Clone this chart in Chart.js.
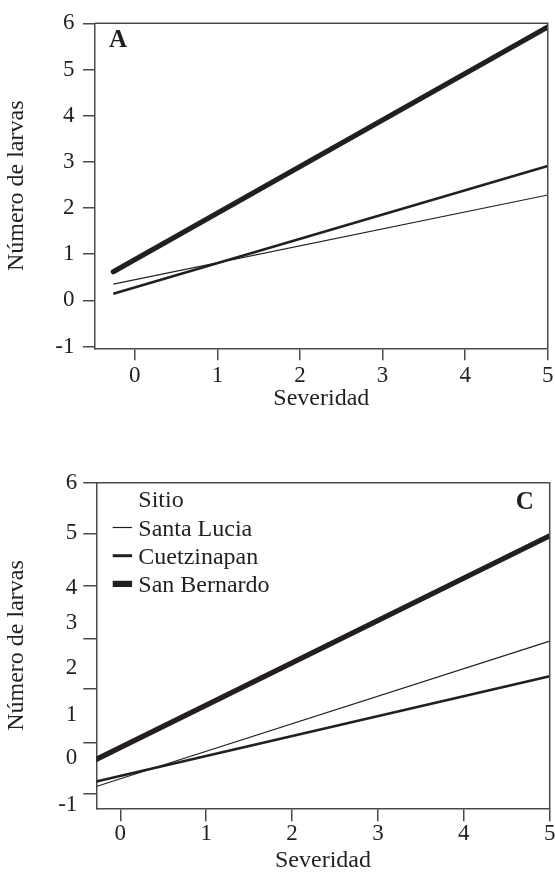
<!DOCTYPE html>
<html><head><meta charset="utf-8">
<script src="https://cdn.jsdelivr.net/npm/chart.js@4.4.0/dist/chart.umd.min.js"></script>
<style>
html,body{margin:0;padding:0;background:#fff;overflow:hidden;width:555px;height:873px}
#ca{position:absolute;left:0;top:0}
#cc{position:absolute;left:0;top:430px}
</style></head><body>
<canvas id="ca" width="555" height="430"></canvas>
<canvas id="cc" width="555" height="443"></canvas>
<script>
// ---- data ----
const seriesNames = ['Santa Lucia', 'Cuetzinapan', 'San Bernardo'];
const legendTitle = 'Sitio';
const xTitle = 'Severidad';
const yTitle = 'Número de larvas';
const xTicks = [0, 1, 2, 3, 4, 5];
const yTicksA = [-1, 0, 1, 2, 3, 4, 5, 6];
const yTickLabelsC = ['6', '5', '4', '3', '2', '1', '0', '-1'];
// Panel A
const xA = [-0.26, 5];
const santaLuciaA = [0.35, 2.28];
const cuetzinapanA = [0.14, 2.91];
const sanBernardoA = [0.62, 5.92];
// Panel C
const xC = [-0.28, 5];
const santaLuciaC = [-0.58, 2.57];
const cuetzinapanC = [-0.47, 1.81];
const sanBernardoC = [0.01, 4.85];
// Panel C axis as printed (tick marks and labels are not aligned in the original)
const yTickMarksC = [6, 4.90, 3.76, 2.63, 1.53, 0.37, -0.73];
const yLabelValuesC = [6, 4.91, 3.72, 2.96, 1.99, 0.97, 0.04, -0.98];

// ---- style ----
const INK = '#231f20';
const AXIS = '#4a4a4a';
const FAM = "'Liberation Serif', 'DejaVu Serif', serif";
const widths = [1.1, 2.7, 5.2];

function pts(xs, ys) { return xs.map((x, i) => ({x: x, y: ys[i]})); }
function datasets(xs, arrs) {
  return arrs.map((a, i) => ({
    label: seriesNames[i], data: pts(xs, a), showLine: true,
    borderColor: INK, borderWidth: widths[i], pointRadius: 0,
    borderCapStyle: i === 2 ? 'round' : 'butt', fill: false
  }));
}

const boxPlugin = {
  id: 'box',
  afterDraw(chart) {
    const {ctx, chartArea: a} = chart;
    ctx.save();
    ctx.strokeStyle = AXIS; ctx.lineWidth = 1.5;
    ctx.beginPath(); ctx.moveTo(a.left, a.top); ctx.lineTo(a.right, a.top); ctx.lineTo(a.right, a.bottom); ctx.stroke();
    const p = chart.options.plugins.panel;
    ctx.fillStyle = INK;
    ctx.font = 'bold 25px ' + FAM;
    ctx.textBaseline = 'alphabetic';
    if (p.align === 'left') { ctx.textAlign = 'left'; ctx.fillText(p.text, a.left + p.dx, a.top + p.dy); }
    else { ctx.textAlign = 'right'; ctx.fillText(p.text, a.right - p.dx, a.top + p.dy); }
    if (p.legend) {
      ctx.font = '24px ' + FAM; ctx.textAlign = 'left';
      ctx.fillText(legendTitle, a.left + 42, a.top + 24);
      chart.data.datasets.forEach((d, i) => {
        const by = a.top + 52.8 + i * 28.2;
        ctx.strokeStyle = INK; ctx.lineWidth = d.borderWidth * (i === 2 ? 1.2 : 1.1);
        ctx.beginPath(); ctx.moveTo(a.left + 16.4, by - 8); ctx.lineTo(a.left + 35.8, by - 8); ctx.stroke();
        ctx.fillText(d.label, a.left + 42, by);
      });
    }
    ctx.restore();
  }
};

function scales(cfg) {
  return {
    x: {
      type: 'linear', min: cfg.xmin, max: 5,
      afterBuildTicks: s => { s.ticks = xTicks.map(v => ({value: v})); },
      afterFit: s => { s.height = cfg.xh; },
      ticks: {autoSkip: false, maxRotation: 0, padding: cfg.xpad, color: INK, font: {family: FAM, size: 23}},
      grid: {drawOnChartArea: false, drawTicks: true, tickLength: cfg.tl, color: AXIS, lineWidth: 1.5},
      border: {display: true, color: AXIS, width: 1.5},
      title: {display: true, text: xTitle, color: INK, font: {family: FAM, size: 24}, padding: {top: 0, bottom: cfg.xtb}}
    },
    y: {
      type: 'linear', min: cfg.ymin, max: 6,
      afterBuildTicks: cfg.yticks,
      afterFit: s => { s.width = cfg.yw; },
      ticks: {autoSkip: false, padding: cfg.ypad, color: INK, font: {family: FAM, size: 23},
        callback: (v, i, t) => (t[i] && t[i].lbl !== undefined) ? t[i].lbl : String(v)},
      grid: {drawOnChartArea: false, drawTicks: true, tickLength: cfg.tl, lineWidth: 1.5,
        color: c => (c.tick && c.tick.mark === false) ? 'rgba(0,0,0,0)' : AXIS},
      border: {display: true, color: AXIS, width: 1.5},
      title: {display: true, text: yTitle, color: INK, font: {family: FAM, size: 24}, padding: {top: 2.5, bottom: 0}}
    }
  };
}

Chart.defaults.font.family = FAM;

new Chart(document.getElementById('ca'), {
  type: 'scatter',
  data: {datasets: datasets(xA, [santaLuciaA, cuetzinapanA, sanBernardoA])},
  options: {
    responsive: false, animation: false, devicePixelRatio: 1,
    layout: {padding: {left: 0, top: 23.3, right: 6.3, bottom: 0}},
    plugins: {legend: {display: false}, tooltip: {enabled: false}, panel: {text: 'A', align: 'left', dx: 14, dy: 23.4, legend: false}},
    scales: scales({xmin: -0.483, ymin: -1.04, xh: 81.7, yw: 94.9, tl: 12, xpad: 1.5, ypad: 8.5, xtb: 16.4,
      yticks: s => { s.ticks = yTicksA.map(v => ({value: v})); }})
  },
  plugins: [boxPlugin]
});

new Chart(document.getElementById('cc'), {
  type: 'scatter',
  data: {datasets: datasets(xC, [santaLuciaC, cuetzinapanC, sanBernardoC])},
  options: {
    responsive: false, animation: false, devicePixelRatio: 1,
    layout: {padding: {left: 0, top: 52.7, right: 5.3, bottom: 0}},
    plugins: {legend: {display: false}, tooltip: {enabled: false}, panel: {text: 'C', align: 'right', dx: 16, dy: 25.8, legend: true}},
    scales: scales({xmin: -0.28, ymin: -1.05, xh: 64.7, yw: 96.3, tl: 13, xpad: -0.8, ypad: 6, xtb: -2,
      yticks: s => {
        s.ticks = yTickMarksC.map(v => ({value: v, mark: true, lbl: ''}))
          .concat(yLabelValuesC.map((v, i) => ({value: v, mark: false, lbl: yTickLabelsC[i]})));
      }})
  },
  plugins: [boxPlugin]
});
</script>
</body></html>
